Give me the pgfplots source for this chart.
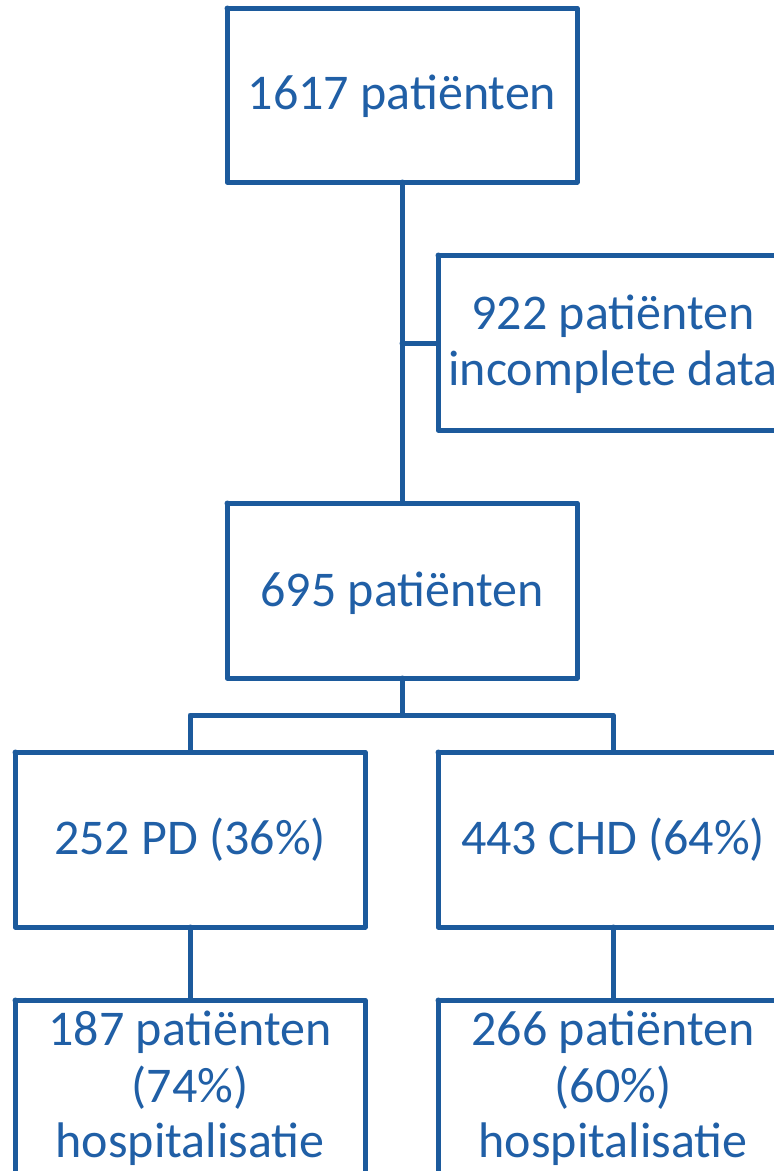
\documentclass[border=0pt]{standalone}
\usepackage{fontspec}
\setmainfont{Carlito}
\usepackage{pgfplots}
\pgfplotsset{compat=1.18}
\definecolor{fc}{RGB}{28,90,156}
\definecolor{tc}{RGB}{32,95,166}
\begin{document}
\begin{tikzpicture}
\clip (0,0) rectangle (774bp,1171bp);
\begin{axis}[
  at={(0,0)}, anchor=south west,
  scale only axis, width=774bp, height=1171bp,
  xmin=0, xmax=774, ymin=0, ymax=1171, y dir=reverse,
  hide axis, clip=true,
  ln/.style={draw=fc, line width=5bp, line join=round, line cap=round, mark=none},
]
% boxes
\addplot[ln] coordinates {(227,8) (577,8) (577,182) (227,182) (227,8)};
\addplot[ln] coordinates {(438,255) (788,255) (788,430) (438,430) (438,255)};
\addplot[ln] coordinates {(227,503) (577,503) (577,678) (227,678) (227,503)};
\addplot[ln] coordinates {(15,752) (365,752) (365,927) (15,927) (15,752)};
\addplot[ln] coordinates {(438,752) (788,752) (788,927) (438,927) (438,752)};
\addplot[ln] coordinates {(15,1000) (365,1000) (365,1175) (15,1175) (15,1000)};
\addplot[ln] coordinates {(438,1000) (788,1000) (788,1175) (438,1175) (438,1000)};
% connectors
\addplot[ln] coordinates {(402,182) (402,503)};
\addplot[ln] coordinates {(402,343) (438,343)};
\addplot[ln] coordinates {(402,678) (402,715)};
\addplot[ln] coordinates {(190,752) (190,715) (613,715) (613,752)};
\addplot[ln] coordinates {(190,927) (190,1000)};
\addplot[ln] coordinates {(613,927) (613,1000)};
% texts
\begin{scope}[every node/.style={anchor=base, inner sep=0pt, text=tc, font=\fontsize{50bp}{56bp}\selectfont}]
\node at (axis cs:402,109) {1617 patiënten};
\node at (axis cs:613,329) {922 patiënten};
\node at (axis cs:613,385) {incomplete data};
\node at (axis cs:402,606) {695 patiënten};
\node at (axis cs:190,854) {252 PD (36\%)};
\node at (axis cs:613,854) {443 CHD (64\%)};
\node at (axis cs:190,1045) {187 patiënten};
\node at (axis cs:190,1102) {(74\%)};
\node at (axis cs:190,1157) {hospitalisatie};
\node at (axis cs:613,1045) {266 patiënten};
\node at (axis cs:613,1102) {(60\%)};
\node at (axis cs:613,1157) {hospitalisatie};
\end{scope}
\end{axis}
\end{tikzpicture}
\end{document}
